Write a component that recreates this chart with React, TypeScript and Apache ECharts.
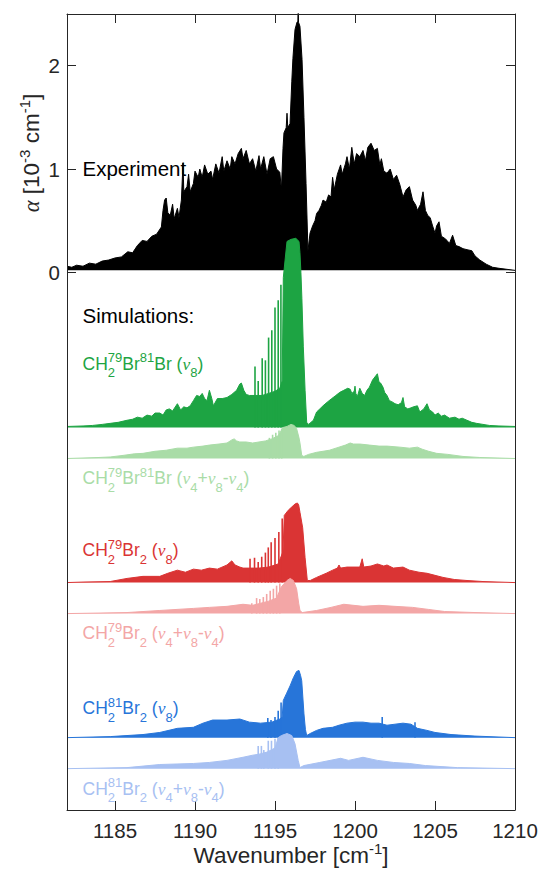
import React, { useEffect, useRef } from 'react';
import * as echarts from 'echarts';

const X_MIN = 1182;
const X_MAX = 1210;
const Y_MIN = -5.2;
const Y_MAX = 2.5;
const xTicks = [1185, 1190, 1195, 1200, 1205, 1210];
const yTicks = [0, 1, 2];

// Experimental absorption (upper envelope), 10^-3 cm^-1
const experiment: [number, number][] = [
  [1182.0, 0.06], [1182.3, 0.05], [1182.6, 0.07], [1183.0, 0.06], [1183.4, 0.09], [1183.8, 0.08],
  [1184.2, 0.11], [1184.6, 0.12], [1185.0, 0.14], [1185.4, 0.15], [1185.8, 0.2], [1186.1, 0.19],
  [1186.4, 0.26], [1186.7, 0.31], [1187.0, 0.3], [1187.3, 0.35], [1187.6, 0.37], [1187.9, 0.44],
  [1188.0, 0.6], [1188.1, 0.7], [1188.2, 0.72], [1188.3, 0.58], [1188.45, 0.55], [1188.6, 0.66],
  [1188.7, 0.52], [1188.9, 0.62], [1189.0, 0.53], [1189.15, 0.7], [1189.25, 1.06], [1189.3, 0.78],
  [1189.5, 0.83], [1189.6, 0.95], [1189.7, 0.78], [1189.9, 0.86], [1190.0, 0.98], [1190.2, 0.92],
  [1190.3, 1.0], [1190.45, 0.92], [1190.6, 1.04], [1190.8, 0.95], [1191.0, 0.98], [1191.1, 0.9],
  [1191.3, 1.05], [1191.5, 0.96], [1191.7, 1.12], [1191.8, 0.98], [1192.0, 1.08], [1192.2, 1.0],
  [1192.3, 1.12], [1192.5, 1.05], [1192.7, 1.15], [1192.9, 1.2], [1193.0, 1.1], [1193.2, 1.18],
  [1193.4, 1.05], [1193.6, 1.1], [1193.8, 0.98], [1194.0, 1.13], [1194.1, 1.0], [1194.3, 1.12],
  [1194.5, 0.95], [1194.7, 1.1], [1194.9, 1.12], [1195.1, 1.0], [1195.3, 0.97], [1195.4, 0.8],
  [1195.5, 1.2], [1195.56, 1.35], [1195.7, 1.4], [1195.75, 1.54], [1195.8, 1.4], [1195.94, 1.44],
  [1196.05, 1.85], [1196.12, 2.07], [1196.25, 2.35], [1196.375, 2.42], [1196.43, 2.43], [1196.45, 2.6],
  [1196.47, 2.42], [1196.56, 2.38], [1196.69, 2.06], [1196.81, 1.5], [1196.94, 0.86], [1197.06, 0.21],
  [1197.19, 0.38], [1197.35, 0.45], [1197.5, 0.5], [1197.6, 0.57], [1197.75, 0.6], [1197.9, 0.65],
  [1198.0, 0.7], [1198.2, 0.68], [1198.35, 0.75], [1198.5, 0.73], [1198.6, 0.92], [1198.7, 0.8],
  [1198.9, 0.95], [1199.1, 1.04], [1199.2, 0.95], [1199.4, 1.05], [1199.5, 1.12], [1199.65, 1.0],
  [1199.8, 1.21], [1199.95, 1.05], [1200.1, 1.15], [1200.3, 1.12], [1200.5, 1.18], [1200.65, 1.08],
  [1200.8, 1.21], [1201.0, 1.25], [1201.2, 1.18], [1201.4, 1.2], [1201.55, 1.04], [1201.65, 1.1],
  [1201.8, 0.98], [1202.0, 0.96], [1202.2, 1.0], [1202.4, 0.9], [1202.6, 0.94], [1202.8, 0.85],
  [1203.0, 0.73], [1203.2, 0.8], [1203.4, 0.83], [1203.6, 0.7], [1203.8, 0.65], [1203.9, 0.6],
  [1204.1, 0.66], [1204.25, 0.78], [1204.4, 0.6], [1204.55, 0.55], [1204.7, 0.53], [1204.85, 0.45],
  [1205.0, 0.38], [1205.1, 0.45], [1205.25, 0.49], [1205.4, 0.35], [1205.6, 0.33], [1205.75, 0.31],
  [1205.9, 0.28], [1206.1, 0.36], [1206.3, 0.26], [1206.5, 0.25], [1206.75, 0.23], [1207.0, 0.22],
  [1207.3, 0.21], [1207.5, 0.16], [1207.8, 0.12], [1208.2, 0.08], [1208.6, 0.05], [1209.0, 0.04],
  [1209.5, 0.03], [1210.0, 0.02],
];
const experimentFloor = 0.02;

// Simulations: heights above their own baselines
const g8Env: [number, number][] = [
  [1182.0, 0.01], [1183.0, 0.015], [1183.6, 0.02], [1184.2, 0.03], [1184.7, 0.04], [1185.2, 0.05],
  [1185.75, 0.07], [1186.1, 0.08], [1186.4, 0.1], [1186.7, 0.09], [1187.0, 0.12], [1187.3, 0.11],
  [1187.5, 0.14], [1187.8, 0.14], [1188.0, 0.12], [1188.2, 0.17], [1188.4, 0.18], [1188.6, 0.16],
  [1188.9, 0.23], [1189.1, 0.17], [1189.3, 0.2], [1189.5, 0.19], [1189.7, 0.21], [1189.9, 0.26],
  [1190.1, 0.31], [1190.3, 0.3], [1190.45, 0.33], [1190.6, 0.28], [1190.75, 0.26], [1190.9, 0.36],
  [1191.05, 0.28], [1191.15, 0.21], [1191.4, 0.28], [1191.7, 0.28], [1192.0, 0.29], [1192.3, 0.32],
  [1192.6, 0.36], [1192.8, 0.42], [1192.9, 0.43], [1193.05, 0.36], [1193.2, 0.32], [1193.4, 0.31],
  [1193.8, 0.31], [1194.2, 0.31], [1194.6, 0.33], [1195.0, 0.35], [1195.3, 0.38], [1195.45, 0.45],
  [1195.52, 1.45], [1195.63, 1.62], [1195.75, 1.8], [1196.0, 1.82], [1196.3, 1.83], [1196.5, 1.8],
  [1196.56, 1.69], [1196.62, 1.5], [1196.68, 1.25], [1196.77, 0.78], [1196.88, 0.36], [1196.98, 0.05],
  [1197.1, 0.03], [1197.4, 0.07], [1197.6, 0.15], [1197.8, 0.18], [1198.0, 0.21], [1198.3, 0.25],
  [1198.55, 0.28], [1198.8, 0.31], [1199.05, 0.34], [1199.3, 0.36], [1199.55, 0.38], [1199.7, 0.37],
  [1199.8, 0.33], [1199.95, 0.35], [1200.0, 0.4], [1200.05, 0.33], [1200.15, 0.3], [1200.3, 0.38],
  [1200.45, 0.33], [1200.6, 0.31], [1200.75, 0.36], [1200.9, 0.39], [1201.1, 0.46], [1201.3, 0.5],
  [1201.4, 0.52], [1201.5, 0.44], [1201.6, 0.43], [1201.75, 0.39], [1201.85, 0.34], [1202.0, 0.31],
  [1202.15, 0.26], [1202.3, 0.25], [1202.5, 0.23], [1202.7, 0.22], [1202.9, 0.24], [1203.0, 0.29],
  [1203.1, 0.2], [1203.3, 0.18], [1203.5, 0.19], [1203.65, 0.2], [1203.9, 0.21], [1204.05, 0.15],
  [1204.3, 0.18], [1204.5, 0.23], [1204.65, 0.17], [1204.85, 0.15], [1205.0, 0.12], [1205.2, 0.14],
  [1205.4, 0.11], [1205.6, 0.12], [1205.9, 0.09], [1206.25, 0.1], [1206.5, 0.08], [1206.7, 0.09],
  [1207.0, 0.07], [1207.3, 0.05], [1207.6, 0.04], [1208.0, 0.03], [1208.4, 0.02], [1209.0, 0.015],
  [1210.0, 0.01],
];
const g8Lines: [number, number][] = [
  [1193.75, 0.59], [1193.95, 0.45], [1194.2, 0.67], [1194.4, 0.65], [1194.6, 0.87], [1194.8, 0.94],
  [1195.0, 1.16], [1195.2, 1.23], [1195.37, 1.38],
];

const g48Env: [number, number][] = [
  [1182, 0], [1183, 0.005], [1184, 0.01], [1184.7, 0.015], [1185.5, 0.03], [1186.2, 0.045],
  [1186.75, 0.05], [1187.5, 0.07], [1188.2, 0.08], [1188.9, 0.1], [1189.5, 0.1], [1189.9, 0.11],
  [1190.5, 0.12], [1190.9, 0.13], [1191.5, 0.14], [1192.0, 0.15], [1192.3, 0.18], [1192.45, 0.19],
  [1192.6, 0.17], [1192.8, 0.16], [1193.2, 0.16], [1193.6, 0.15], [1194.0, 0.16], [1194.4, 0.17],
  [1194.8, 0.19], [1195.2, 0.22], [1195.5, 0.3], [1195.75, 0.31], [1196.0, 0.33], [1196.2, 0.32],
  [1196.35, 0.29], [1196.5, 0.2], [1196.56, 0.15], [1196.67, 0.03], [1196.8, 0.02], [1197.1, 0.04],
  [1197.6, 0.06], [1198.0, 0.07], [1198.4, 0.08], [1199.0, 0.11], [1199.4, 0.13], [1199.7, 0.15],
  [1199.9, 0.14], [1200.3, 0.14], [1200.9, 0.13], [1201.5, 0.12], [1202.0, 0.12], [1202.8, 0.11],
  [1203.4, 0.1], [1203.9, 0.11], [1204.2, 0.09], [1204.6, 0.07], [1205.1, 0.05], [1205.8, 0.04],
  [1206.75, 0.02], [1207.8, 0.01], [1210, 0],
];
const g48Lines: [number, number][] = [
  [1194.65, 0.2], [1194.85, 0.23], [1195.05, 0.25], [1195.25, 0.27], [1195.42, 0.29],
];

const r8Env: [number, number][] = [
  [1182, 0], [1183, 0.005], [1184.7, 0.01], [1185.75, 0.04], [1186.75, 0.06], [1187.8, 0.06],
  [1188.3, 0.09], [1188.9, 0.12], [1189.4, 0.1], [1189.9, 0.13], [1190.4, 0.12], [1190.9, 0.14],
  [1191.4, 0.13], [1192.0, 0.17], [1192.3, 0.21], [1192.5, 0.17], [1192.8, 0.15], [1193.0, 0.14],
  [1193.4, 0.14], [1194.0, 0.14], [1194.6, 0.15], [1195.2, 0.18], [1195.5, 0.3], [1195.58, 0.65],
  [1195.83, 0.7], [1196.04, 0.73], [1196.25, 0.76], [1196.4, 0.77], [1196.48, 0.75], [1196.56, 0.68],
  [1196.73, 0.53], [1196.88, 0.24], [1197.02, 0.02], [1197.2, 0.02], [1197.6, 0.05], [1198.2, 0.09],
  [1198.6, 0.12], [1198.9, 0.14], [1199.0, 0.17], [1199.1, 0.14], [1199.5, 0.15], [1200.0, 0.15],
  [1200.3, 0.15], [1200.45, 0.23], [1200.55, 0.15], [1201.0, 0.16], [1201.4, 0.18], [1201.8, 0.16],
  [1202.0, 0.17], [1202.4, 0.14], [1203.0, 0.15], [1203.4, 0.12], [1204.0, 0.1], [1204.5, 0.09],
  [1205.0, 0.07], [1205.5, 0.05], [1206.2, 0.03], [1207.0, 0.02], [1208.0, 0.01], [1210, 0],
];
const r8Lines: [number, number][] = [
  [1193.44, 0.23], [1193.72, 0.24], [1193.95, 0.2], [1194.17, 0.25], [1194.4, 0.29], [1194.58, 0.34],
  [1194.76, 0.39], [1195.0, 0.43], [1195.24, 0.49], [1195.45, 0.62],
];

const r48Env: [number, number][] = [
  [1182, 0], [1184, 0.005], [1185.75, 0.01], [1187.8, 0.03], [1189.9, 0.05], [1190.9, 0.06],
  [1192, 0.07], [1193, 0.09], [1193.6, 0.08], [1194.1, 0.1], [1194.6, 0.12], [1195.1, 0.15],
  [1195.4, 0.26], [1195.75, 0.32], [1195.95, 0.34], [1196.15, 0.32], [1196.35, 0.24], [1196.48, 0.1],
  [1196.56, 0.03], [1196.7, 0.01], [1197.6, 0.03], [1198.5, 0.06], [1199.3, 0.09], [1200.5, 0.07],
  [1201.5, 0.08], [1202.5, 0.07], [1203.6, 0.06], [1204.6, 0.04], [1205.6, 0.02], [1207.5, 0.01],
  [1210, 0],
];
const r48Lines: [number, number][] = [
  [1193.55, 0.1], [1193.85, 0.15], [1194.05, 0.14], [1194.27, 0.16], [1194.48, 0.19], [1194.7, 0.22],
  [1194.9, 0.24], [1195.1, 0.27], [1195.3, 0.29],
];

const b8Env: [number, number][] = [
  [1182, 0], [1184.7, 0.01], [1186.75, 0.03], [1187.8, 0.05], [1188.9, 0.09], [1189.9, 0.1],
  [1190.5, 0.14], [1191.1, 0.17], [1192.0, 0.17], [1192.8, 0.18], [1193.4, 0.15], [1194.1, 0.14],
  [1194.8, 0.15], [1195.3, 0.18], [1195.45, 0.2], [1195.52, 0.36], [1195.73, 0.43], [1195.94, 0.5],
  [1196.15, 0.58], [1196.35, 0.64], [1196.5, 0.65], [1196.6, 0.6], [1196.67, 0.55], [1196.81, 0.23],
  [1196.9, 0.08], [1196.98, 0.02], [1197.2, 0.04], [1197.6, 0.07], [1198.0, 0.09], [1198.6, 0.1],
  [1199.0, 0.12], [1199.5, 0.14], [1200.0, 0.15], [1200.5, 0.15], [1201.0, 0.14], [1201.5, 0.14],
  [1202.0, 0.12], [1202.5, 0.13], [1203.0, 0.14], [1203.5, 0.13], [1203.9, 0.09], [1204.5, 0.07],
  [1205.0, 0.05], [1206.0, 0.03], [1207.5, 0.015], [1210, 0],
];
const b8Lines: [number, number][] = [
  [1194.55, 0.19], [1194.75, 0.17], [1195.0, 0.2], [1195.2, 0.26], [1195.38, 0.34], [1201.7, 0.2],
  [1203.75, 0.15],
];

const b48Env: [number, number][] = [
  [1182, 0], [1185.75, 0.01], [1187.8, 0.04], [1189.9, 0.05], [1190.9, 0.06], [1192, 0.08],
  [1193, 0.11], [1193.6, 0.13], [1194.0, 0.14], [1194.5, 0.16], [1195.0, 0.2], [1195.2, 0.3],
  [1195.4, 0.32], [1195.75, 0.34], [1196.05, 0.32], [1196.25, 0.24], [1196.45, 0.08], [1196.56, 0.01],
  [1196.8, 0.03], [1197.8, 0.06], [1199.1, 0.1], [1199.6, 0.08], [1200.5, 0.11], [1201.4, 0.08],
  [1202.4, 0.06], [1203.4, 0.05], [1204.4, 0.03], [1206.4, 0.01], [1210, 0],
];
const b48Lines: [number, number][] = [
  [1193.95, 0.22], [1194.15, 0.22], [1194.3, 0.18], [1194.58, 0.27], [1194.78, 0.27], [1195.0, 0.29],
  [1195.2, 0.3],
];

const simBaselines = [-1.5, -1.8, -3.0, -3.3, -4.5, -4.8];
const simColors = ['#1DA443', '#A9DCA7', '#DA3434', '#F3A6A6', '#2775D9', '#A7C0F2'];
const simEnvelopes = [g8Env, g48Env, r8Env, r48Env, b8Env, b48Env];
const simLines = [g8Lines, g48Lines, r8Lines, r48Lines, b8Lines, b48Lines];
const simLabels = [
  '{b|CH}{sub|2}{supb|79}{b|Br}{sup|81}{b|Br (}{nu|ν}{sub|8}{b|)}',
  '{b|CH}{sub|2}{supb|79}{b|Br}{sup|81}{b|Br (}{nu|ν}{sub|4}{b|+}{nu|ν}{sub|8}{b|-}{nu|ν}{sub|4}{b|)}',
  '{b|CH}{sub|2}{supb|79}{b|Br}{sub|2}{b| (}{nu|ν}{sub|8}{b|)}',
  '{b|CH}{sub|2}{supb|79}{b|Br}{sub|2}{b| (}{nu|ν}{sub|4}{b|+}{nu|ν}{sub|8}{b|-}{nu|ν}{sub|4}{b|)}',
  '{b|CH}{sub|2}{supb|81}{b|Br}{sub|2}{b| (}{nu|ν}{sub|8}{b|)}',
  '{b|CH}{sub|2}{supb|81}{b|Br}{sub|2}{b| (}{nu|ν}{sub|4}{b|+}{nu|ν}{sub|8}{b|-}{nu|ν}{sub|4}{b|)}',
];
const simLabelY = [363.7, 478, 550, 633.3, 708.3, 788.5];

const FONT = '"Liberation Sans", Arial, Helvetica, sans-serif';
const SERIF = '"Liberation Serif", "Times New Roman", serif';
const AXIS = '#262626';

function speciesRich(color: string) {
  return {
    b: { fontSize: 17.5, fontFamily: FONT, fill: color },
    nu: { fontSize: 17.5, fontFamily: SERIF, fontStyle: 'italic', fill: color },
    sub: { fontSize: 13, fontFamily: FONT, fill: color, padding: [18, 0, 0, 0] },
    sup: { fontSize: 13, fontFamily: FONT, fill: color, padding: [0, 0, 12, 0] },
    supb: { fontSize: 13, fontFamily: FONT, fill: color, padding: [0, 0, 12, -7.2] },
  };
}

function textEl(x: number, y: number, text: string, extra: any = {}, align = 'left', rotation = 0) {
  return {
    type: 'text',
    x,
    y,
    rotation,
    z: 100,
    silent: true,
    style: {
      text,
      align,
      textAlign: align,
      verticalAlign: 'middle',
      textVerticalAlign: 'middle',
      ...extra,
    },
  };
}

export default function App() {
  const ref = useRef<HTMLDivElement>(null);

  useEffect(() => {
    if (!ref.current) return;
    const chart = echarts.init(ref.current, undefined, { renderer: 'svg' });

    const series: any[] = [
      {
        type: 'line',
        data: experiment,
        symbol: 'none',
        silent: true,
        z: 2,
        lineStyle: { color: '#000000', width: 1 },
        areaStyle: { color: '#000000', opacity: 1, origin: experimentFloor },
      },
    ];
    simEnvelopes.forEach((env, i) => {
      const base = simBaselines[i];
      const color = simColors[i];
      series.push({
        type: 'line',
        data: env.map(([x, h]) => [x, base + h]),
        symbol: 'none',
        silent: true,
        z: 3 + i,
        lineStyle: { color, width: 1 },
        areaStyle: { color, opacity: 1, origin: base },
      });
      series.push({
        type: 'custom',
        silent: true,
        z: 3 + i,
        data: simLines[i].map(([x, h]) => [x, base, base + h]),
        encode: { x: 0, y: [1, 2] },
        renderItem: (_p: any, api: any) => {
          const p0 = api.coord([api.value(0), api.value(1)]);
          const p1 = api.coord([api.value(0), api.value(2)]);
          return {
            type: 'line',
            shape: { x1: p0[0], y1: p0[1], x2: p1[0], y2: p1[1] },
            style: { stroke: color, lineWidth: 1.6 },
          };
        },
      });
    });

    const graphics: any[] = [
      textEl(82.5, 168.7, 'Experiment', { fontSize: 20.5, fontFamily: FONT, fill: '#000000' }),
      textEl(82.5, 315.5, 'Simulations:', { fontSize: 20.5, fontFamily: FONT, fill: '#000000' }),
      textEl(291, 855.5, '{b|Wavenumber [cm}{sup|-1}{b|]}', {
        rich: {
          b: { fontSize: 22.5, fontFamily: FONT, fill: AXIS },
          sup: { fontSize: 15, fontFamily: FONT, fill: AXIS, padding: [0, 0, 14, 0] },
        },
      }, 'center'),
      textEl(31, 153, '{a|α}{b| [10}{sup|-3}{b| cm}{sup|-1}{b|]}', {
        rich: {
          a: { fontSize: 22.5, fontFamily: SERIF, fontStyle: 'italic', fill: AXIS },
          b: { fontSize: 22.5, fontFamily: FONT, fill: AXIS },
          sup: { fontSize: 15, fontFamily: FONT, fill: AXIS, padding: [0, 0, 14, 0] },
        },
      }, 'center', Math.PI / 2),
    ];
    simLabels.forEach((t, i) => {
      graphics.push(textEl(82.5, simLabelY[i], t, { rich: speciesRich(simColors[i]) }));
    });

    const tickLabel = {
      color: AXIS,
      fontSize: 20.5,
      fontFamily: FONT,
      formatter: (v: number) => String(v),
    };
    const axisLine = { show: true, onZero: false, lineStyle: { color: AXIS, width: 1 } };

    chart.setOption({
      animation: false,
      backgroundColor: '#ffffff',
      grid: {
        left: 67,
        right: 24,
        top: 14,
        bottom: 59,
        containLabel: false,
        outerBoundsMode: 'none',
      },
      xAxis: [
        {
          type: 'value',
          min: X_MIN,
          max: X_MAX,
          position: 'bottom',
          z: 10,
          axisLine,
          axisTick: { show: true, inside: true, length: 9, customValues: xTicks, lineStyle: { color: AXIS } },
          axisLabel: { ...tickLabel, show: true, margin: 10, customValues: xTicks },
          splitLine: { show: false },
        },
        {
          type: 'value',
          min: X_MIN,
          max: X_MAX,
          position: 'top',
          z: 10,
          axisLine,
          axisTick: { show: true, inside: true, length: 9, customValues: xTicks, lineStyle: { color: AXIS } },
          axisLabel: { show: false },
          splitLine: { show: false },
        },
      ],
      yAxis: [
        {
          type: 'value',
          min: Y_MIN,
          max: Y_MAX,
          position: 'left',
          z: 10,
          axisLine,
          axisTick: { show: true, inside: true, length: 9, customValues: yTicks, lineStyle: { color: AXIS } },
          axisLabel: { ...tickLabel, show: true, margin: 7, customValues: yTicks },
          splitLine: { show: false },
        },
        {
          type: 'value',
          min: Y_MIN,
          max: Y_MAX,
          position: 'right',
          z: 10,
          axisLine,
          axisTick: { show: true, inside: true, length: 9, customValues: yTicks, lineStyle: { color: AXIS } },
          axisLabel: { show: false },
          splitLine: { show: false },
        },
      ],
      series,
      graphic: graphics,
    });

    return () => {
      chart.dispose();
    };
  }, []);

  return (
    <div
      ref={ref}
      style={{ position: 'fixed', left: 0, top: 0, width: 539, height: 869 }}
    />
  );
}
